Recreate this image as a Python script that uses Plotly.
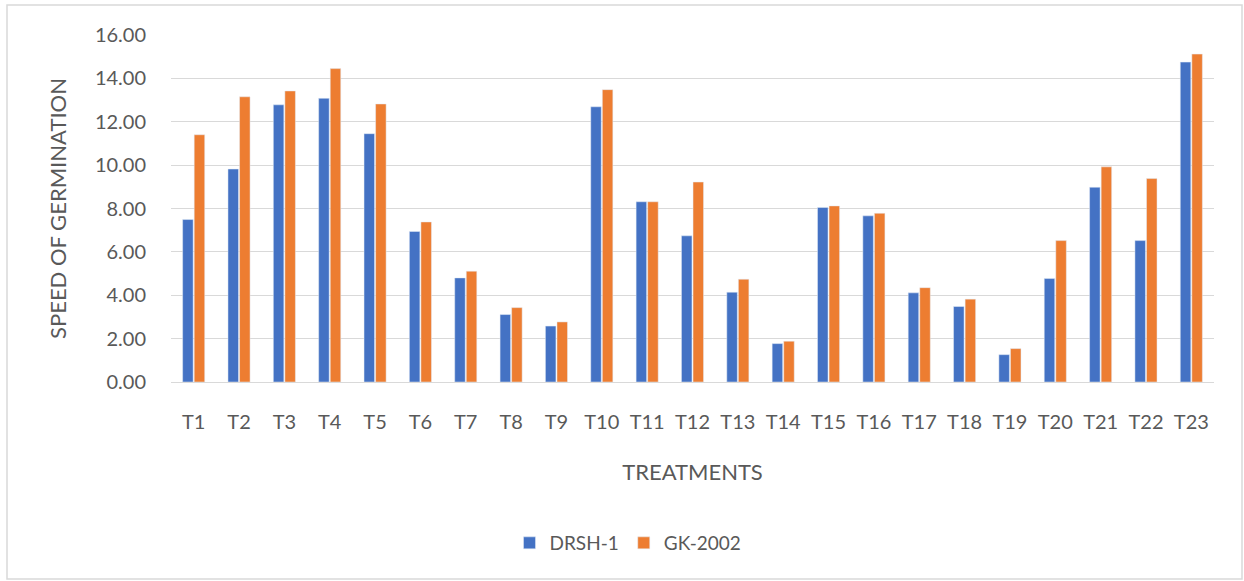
import plotly.graph_objects as go

treatments = ["T1", "T2", "T3", "T4", "T5", "T6", "T7", "T8", "T9", "T10", "T11", "T12",
              "T13", "T14", "T15", "T16", "T17", "T18", "T19", "T20", "T21", "T22", "T23"]
drsh1 = [7.49, 9.82, 12.78, 13.08, 11.45, 6.94, 4.80, 3.11, 2.58, 12.69, 8.31, 6.74,
         4.14, 1.77, 8.05, 7.66, 4.11, 3.48, 1.26, 4.77, 8.98, 6.52, 14.75]
gk2002 = [11.40, 13.15, 13.42, 14.45, 12.82, 7.38, 5.11, 3.43, 2.77, 13.48, 8.31, 9.22,
          4.74, 1.88, 8.12, 7.78, 4.35, 3.82, 1.54, 6.52, 9.92, 9.38, 15.12]

W, H = 1244, 581
L, R, T, B = 171, 30, 35, 199
pw, ph = W - L - R, H - T - B

def px(x):
    return (x - L) / pw

def py(y):
    return (H - B - y) / ph

FONT = "Lato, Carlito, Calibri, sans-serif"
GREY = "#595959"

fig = go.Figure()
fig.add_trace(go.Bar(name="DRSH-1", x=treatments, y=drsh1, marker_color="#4472C4"))
fig.add_trace(go.Bar(name="GK-2002", x=treatments, y=gk2002, marker_color="#ED7D31"))

fig.update_layout(
    width=W, height=H,
    margin=dict(l=L, r=R, t=T, b=B, autoexpand=False),
    paper_bgcolor="white", plot_bgcolor="white",
    barmode="group", bargap=0.49, bargroupgap=0.09,
    font=dict(family=FONT, color=GREY, size=20),
    showlegend=True,
    legend=dict(orientation="h", x=px(628), xanchor="center", y=py(543), yanchor="middle",
                font=dict(size=19, color=GREY), itemwidth=30, tracegroupgap=0,
                bgcolor="rgba(0,0,0,0)"),
    xaxis=dict(
        showgrid=False, showline=True, linecolor="#d9d9d9", linewidth=1,
        ticks="", tickfont=dict(size=20, color=GREY), ticklabelstandoff=22,
        title=dict(text="TREATMENTS", font=dict(size=22, color=GREY), standoff=32),
    ),
    yaxis=dict(
        range=[0, 16], dtick=2, tickformat=".2f",
        showgrid=True, gridcolor="#d9d9d9", gridwidth=1,
        zeroline=True, zerolinecolor="#d9d9d9", zerolinewidth=1,
        showline=False, ticks="", tickfont=dict(size=20, color=GREY), ticklabelstandoff=24,
        title=dict(text="SPEED OF GERMINATION", font=dict(size=22, color=GREY), standoff=22),
    ),
    shapes=[dict(type="rect", xref="paper", yref="paper",
                 x0=px(7), x1=px(1242), y0=py(579), y1=py(5),
                 line=dict(color="#d9d9d9", width=1.5), fillcolor="rgba(0,0,0,0)", layer="below")],
)

fig.write_html("out.html", config={"displayModeBar": False},
               post_script="document.body.style.margin='0';document.body.style.overflow='hidden';")
